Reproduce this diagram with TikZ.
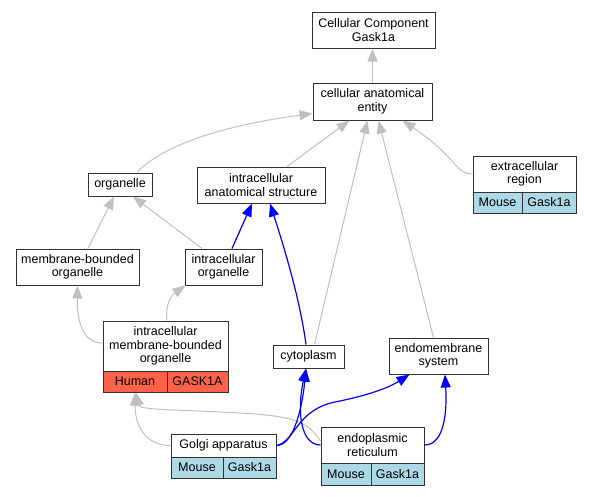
\documentclass[tikz,border=0pt]{standalone}
\usepackage{fontspec}
\setmainfont{Liberation Sans}
\usetikzlibrary{arrows.meta}
\definecolor{edgegray}{RGB}{192,192,192}
\definecolor{lblue}{RGB}{173,216,230}
\definecolor{tomatored}{RGB}{255,99,71}
\begin{document}
\begin{tikzpicture}[x=1pt,y=-1pt,
  box/.style={draw=black!80, line width=1pt, fill=white, inner sep=0pt, align=center,
    font=\fontsize{12.5}{13.5}\selectfont},
  cell/.style={box, fill=lblue},
  hcell/.style={box, fill=tomatored},
  isa/.style={draw=edgegray, line width=1pt, -{Triangle[length=13pt,width=10pt]}},
  pa/.style={draw=blue, line width=1.2pt, -{Triangle[length=13pt,width=10pt]}}
]
\useasboundingbox (0,0) rectangle (591,496);
% nodes
\node[box, minimum width=123pt, minimum height=36pt] (cc) at (373.5,30) {Cellular Component\\Gask1a};
\node[box, minimum width=119pt, minimum height=37pt] (cae) at (372.5,101.5) {cellular anatomical\\entity};
\node[box, minimum width=64pt, minimum height=23pt] (org) at (120,184.5) {organelle};
\node[box, minimum width=128pt, minimum height=36pt] (ias) at (261,185) {intracellular\\anatomical structure};
\node[box, minimum width=123pt, minimum height=36pt] (mbo) at (77.5,267) {membrane-bounded\\organelle};
\node[box, minimum width=77pt, minimum height=36pt] (io) at (223.5,267) {intracellular\\organelle};
\node[box, minimum width=103pt, minimum height=36pt] (ext) at (524.5,174) {extracellular\\region};
\node[cell, minimum width=49pt, minimum height=21pt] (extmouse) at (497.5,202.5) {Mouse};
\node[cell, minimum width=54pt, minimum height=21pt] (extgene) at (549,202.5) {Gask1a};
\node[box, minimum width=125pt, minimum height=50pt] (imbo) at (165.5,346) {intracellular\\membrane-bounded\\organelle};
\node[hcell, minimum width=64pt, minimum height=21pt] (hum) at (135,381.5) {Human};
\node[hcell, minimum width=61pt, minimum height=21pt] (humgene) at (197.5,381.5) {GASK1A};
\node[box, minimum width=71pt, minimum height=23pt] (cyto) at (308.5,356.5) {cytoplasm};
\node[box, minimum width=99pt, minimum height=36pt] (ems) at (438.5,356) {endomembrane\\system};
\node[box, minimum width=105pt, minimum height=23pt] (golgi) at (223.5,445.5) {Golgi apparatus};
\node[cell, minimum width=52pt, minimum height=21pt] (golgimouse) at (197,467.5) {Mouse};
\node[cell, minimum width=53pt, minimum height=21pt] (golgigene) at (249.5,467.5) {Gask1a};
\node[box, minimum width=103pt, minimum height=36pt] (endo) at (372.5,445) {endoplasmic\\reticulum};
\node[cell, minimum width=50pt, minimum height=22pt] (endomouse) at (346,474) {Mouse};
\node[cell, minimum width=53pt, minimum height=22pt] (endogene) at (397.5,474) {Gask1a};
% gray is_a edges
\draw[isa] (cae.north) -- (cae.north |- cc.south);
\draw[isa] ([xshift=17pt]org.north) .. controls (150,158) and (190,130) .. ([yshift=-12pt]cae.west);
\draw[isa] ([xshift=26pt]ias.north) -- ([xshift=-23pt]cae.south);
\draw[isa] ([xshift=6pt]cyto.north) -- ([xshift=-5pt]cae.south);
\draw[isa] ([xshift=-5pt]ems.north) -- ([xshift=6pt]cae.south);
\draw[isa] (ext.west) .. controls (455,174) and (458,158) .. ([xshift=30pt]cae.south);
\draw[isa] ([xshift=10.5pt]mbo.north) -- ([xshift=-6pt]org.south);
\draw[isa] ([xshift=-21.5pt]io.north) -- ([xshift=13pt]org.south);
\draw[isa] ([yshift=3pt]imbo.west) .. controls (82,343) and (77,320) .. (mbo.south);
\draw[isa] ([xshift=1.5pt]imbo.north) .. controls (165,303) and (172,295) .. ([xshift=1pt]io.south west);
\draw[isa] (golgi.west) .. controls (145,445.5) and (135,425) .. (hum.south);
\draw[isa] ([yshift=4pt]endo.west) .. controls (308,422) and (295,416) .. (240,413)
  .. controls (165,409) and (140,410) .. ([xshift=1pt]hum.south);
% blue part_of edges
\draw[pa] ([xshift=8.5pt]io.north) -- ([xshift=-9pt]ias.south);
\draw[pa] ([xshift=-2.5pt]cyto.north) .. controls (300,300) and (285,250) .. ([xshift=9pt]ias.south);
\draw[pa] (golgi.east) .. controls (293,445.5) and (302,410) .. ([xshift=-2.5pt]cyto.south);
\draw[pa] (endo.west) .. controls (300,445) and (297,410) .. ([xshift=-2.5pt]cyto.south);
\draw[pa] (golgi.east) .. controls (295,442) and (296,410) .. (335,402)
  .. controls (360,397) and (385,390) .. ([xshift=-29pt]ems.south);
\draw[pa] (endo.east) .. controls (445,445) and (447,410) .. ([xshift=6.5pt]ems.south);
\end{tikzpicture}
\end{document}
